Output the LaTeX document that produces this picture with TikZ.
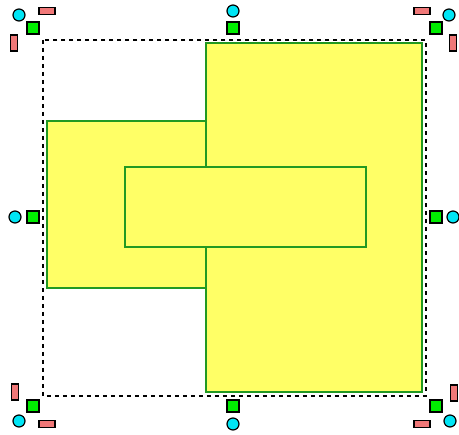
\documentclass[tikz,border=0pt]{standalone}
\usetikzlibrary{positioning}

\definecolor{shapefill}{HTML}{FFFF66}
\definecolor{shapeline}{HTML}{229922}
\definecolor{rotgrip}{HTML}{00E5F5}
\definecolor{sizegrip}{HTML}{00EE00}
\definecolor{skewgrip}{HTML}{F07878}

\begin{document}
\begin{tikzpicture}[x=1pt, y=-1pt,
  filledbox/.style={draw=shapeline, fill=shapefill, line width=1.5pt},
  rotate grip/.style={circle, draw, fill=rotgrip, line width=1.2pt, inner sep=0pt, minimum size=12pt},
  size grip/.style={rectangle, draw, fill=sizegrip, line width=1.2pt, inner sep=0pt, minimum size=12pt},
  hskew/.style={rectangle, draw, fill=skewgrip, line width=1.2pt, inner sep=0pt, minimum width=16pt, minimum height=7.5pt},
  vskew/.style={hskew, minimum width=7.5pt, minimum height=16pt}]
  \useasboundingbox (0,0) rectangle (459,435);
  % shapes
  \draw[filledbox] (206,43) rectangle (422,392);
  \draw[filledbox] (47,121) rectangle (206,288);
  \draw[filledbox] (125,167) rectangle (366,247);
  % selection frame
  \draw[line width=1.2pt, dash pattern=on 4pt off 4pt] (43,40) rectangle (426,396);
  % size grips
  \node[size grip] (nw) at (33,28) {};
  \node[size grip] (n) at (233,28) {};
  \node[size grip] (ne) at (436,28) {};
  \node[size grip] (w) at (33,217) {};
  \node[size grip] (e) at (436,217) {};
  \node[size grip] (sw) at (33,406) {};
  \node[size grip] (s) at (233,406) {};
  \node[size grip] (se) at (436,406) {};
  % rotate grips
  \node[rotate grip] (rnw) at (19,15) {};
  \node[rotate grip] (rn) at (233,11) {};
  \node[rotate grip] (rne) at (449,15) {};
  \node[rotate grip] (rw) at (15,217) {};
  \node[rotate grip] (re) at (453,217) {};
  \node[rotate grip] (rsw) at (19,421) {};
  \node[rotate grip] (rs) at (233,424) {};
  \node[rotate grip] (rse) at (450,421) {};
  % skew grips
  \node[hskew] (knw) at (47,11) {};
  \node[vskew] (knw2) at (14,43) {};
  \node[hskew] (kne) at (422,11) {};
  \node[vskew] (kne2) at (453,43) {};
  \node[vskew] (ksw2) at (15,392) {};
  \node[hskew] (ksw) at (47,424) {};
  \node[vskew] (kse2) at (454,393) {};
  \node[hskew] (kse) at (422,424) {};
\end{tikzpicture}
\end{document}
